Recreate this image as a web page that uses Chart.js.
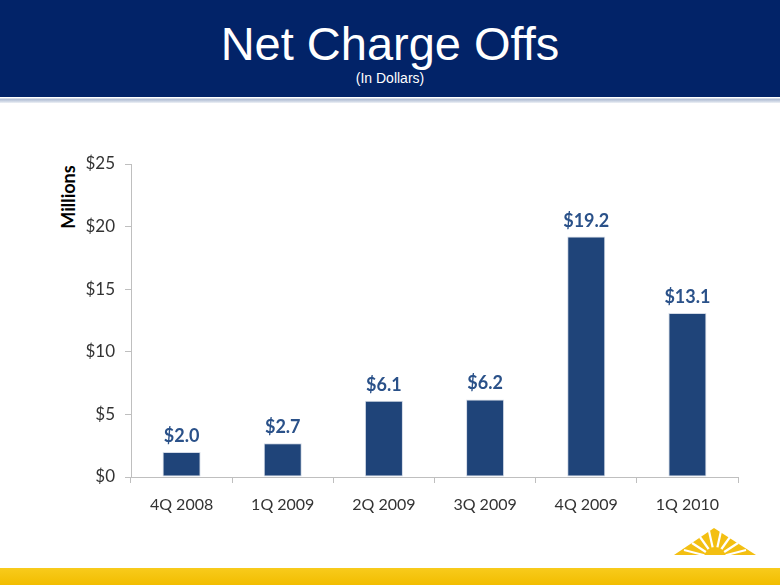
<!DOCTYPE html>
<html>
<head>
<meta charset="utf-8">
<title>Net Charge Offs</title>
<script src="https://cdn.jsdelivr.net/npm/chart.js@4.4.1/dist/chart.umd.min.js"></script>
<style>
    html, body { margin: 0; padding: 0; background: #ffffff; }
    #page { position: relative; width: 780px; height: 585px; overflow: hidden; background: #ffffff; }
    #header { position: absolute; left: 0; top: 0; width: 780px; height: 97px; background: #022368; }
    #header .title { position: absolute; left: 0; width: 780px; top: 19px; text-align: center; color: #ffffff;
        font-family: "Liberation Sans", Arial, sans-serif; font-size: 47px; line-height: 50px; }
    #header .sub { position: absolute; left: 0; width: 780px; top: 70px; text-align: center; color: #ffffff;
        font-family: "Liberation Sans", Arial, sans-serif; font-size: 14px; line-height: 16px; }
    #rule { position: absolute; left: 0; top: 97px; width: 780px; height: 6px;
        background: linear-gradient(#ffffff 0, #ffffff 1px, #aebbd2 2px, #c9d2e2 4px, #eef1f6 6px); }
    #footer { position: absolute; left: 0; top: 568px; width: 780px; height: 17px;
        background: linear-gradient(#f8cb1c, #f2bd00); }
    #logo { position: absolute; left: 670px; top: 524px; }
    #millions { position: absolute; left: 28px; top: 186px; width: 80px; text-align: center;
        transform: rotate(-90deg); font-family: Lato, "DejaVu Sans", sans-serif; font-weight: bold;
        font-size: 18px; line-height: 22px; color: #000000; }
    #chartWrap { position: absolute; left: 0; top: 0; width: 780px; height: 585px; }
</style>
</head>
<body>
<div id="page">
    <div id="header">
        <div class="title">Net Charge Offs</div>
        <div class="sub">(In Dollars)</div>
    </div>
    <div id="rule"></div>
    <div id="millions">Millions</div>
    <div id="chartWrap"><canvas id="chargeOffChart" width="780" height="585"></canvas></div>
    <svg id="logo" width="90" height="36" viewBox="0 0 90 36">
        <polygon points="4,31 44,4 86,31" fill="#f3bf12"/>
        <g stroke="#ffffff" stroke-width="2.2">
            <line x1="45" y1="34" x2="14" y2="26"/>
            <line x1="45" y1="34" x2="22" y2="19"/>
            <line x1="45" y1="34" x2="30" y2="13"/>
            <line x1="45" y1="34" x2="39" y2="7"/>
            <line x1="45" y1="34" x2="51" y2="7"/>
            <line x1="45" y1="34" x2="60" y2="13"/>
            <line x1="45" y1="34" x2="68" y2="19"/>
            <line x1="45" y1="34" x2="76" y2="26"/>
        </g>
        <circle cx="45" cy="34" r="11" fill="#f3bf12"/>
        <rect x="0" y="31" width="90" height="5" fill="#ffffff"/>
    </svg>
    <div id="footer"></div>
</div>

<script>
// Data chart
const quarters = ['4Q 2008', '1Q 2009', '2Q 2009', '3Q 2009', '4Q 2009', '1Q 2010'];
const chargeOffs = [2.0, 2.7, 6.1, 6.2, 19.2, 13.1];
const yTicks = [0, 5, 10, 15, 20, 25];

(function() {
    'use strict';

    const axisGray = '#bfbfbf';
    const labelGray = '#333333';
    const barBlue = '#1f4479';
    const valueBlue = '#2a5189';

    // Label nilai di atas bar
    const valueLabels = {
        id: 'valueLabels',
        afterDatasetsDraw: function(chart) {
            const ctx = chart.ctx;
            const meta = chart.getDatasetMeta(0);
            ctx.save();
            ctx.font = 'bold 18px Lato, "DejaVu Sans", sans-serif';
            ctx.fillStyle = valueBlue;
            ctx.textAlign = 'center';
            ctx.textBaseline = 'alphabetic';
            meta.data.forEach(function(bar, i) {
                ctx.fillText('$' + chargeOffs[i].toFixed(1), bar.x, bar.y - 10);
            });
            ctx.restore();
        }
    };

    function initChart() {
        const canvas = document.getElementById('chargeOffChart');
        if (!canvas || typeof Chart === 'undefined') {
            console.log('Chart.js or canvas not ready');
            return;
        }

        new Chart(canvas.getContext('2d'), {
            type: 'bar',
            data: {
                labels: quarters,
                datasets: [{
                    data: chargeOffs,
                    backgroundColor: barBlue,
                    borderColor: '#d3dae6',
                    borderWidth: 1,
                    borderSkipped: false,
                    categoryPercentage: 1.0,
                    barPercentage: 0.376
                }]
            },
            options: {
                responsive: false,
                animation: false,
                layout: { padding: { top: 164, right: 42, left: 0, bottom: 0 } },
                plugins: {
                    legend: { display: false },
                    tooltip: { enabled: false }
                },
                scales: {
                    x: {
                        afterFit: function(scale) { scale.height = 108; },
                        grid: {
                            drawOnChartArea: false,
                            drawTicks: true,
                            tickLength: 6,
                            color: axisGray
                        },
                        border: { color: axisGray, width: 1 },
                        ticks: {
                            padding: 12,
                            color: labelGray,
                            font: { family: 'Lato, "DejaVu Sans", sans-serif', size: 16 }
                        }
                    },
                    y: {
                        min: yTicks[0],
                        max: yTicks[yTicks.length - 1],
                        afterFit: function(scale) { scale.width = 131; },
                        afterBuildTicks: function(scale) {
                            scale.ticks = yTicks.map(function(v) { return { value: v }; });
                        },
                        grid: {
                            drawOnChartArea: false,
                            drawTicks: true,
                            tickLength: 6,
                            color: axisGray
                        },
                        border: { color: axisGray, width: 1 },
                        ticks: {
                            padding: 10,
                            color: labelGray,
                            font: { family: 'Lato, "DejaVu Sans", sans-serif', size: 17 },
                            callback: function(value) { return '$' + value; }
                        }
                    }
                }
            },
            plugins: [valueLabels]
        });
        console.log('Chart initialized');
    }

    if (document.readyState === 'loading') {
        document.addEventListener('DOMContentLoaded', initChart);
    } else {
        initChart();
    }
})();
</script>
</body>
</html>
